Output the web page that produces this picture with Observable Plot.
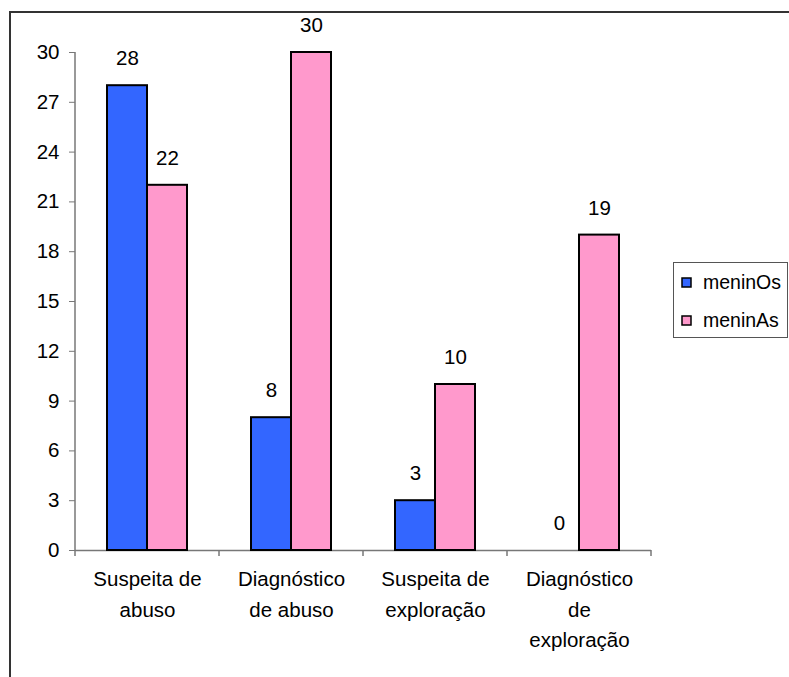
<!DOCTYPE html>
<html><head><meta charset="utf-8">
<script src="https://cdn.jsdelivr.net/npm/d3@7"></script>
<script src="https://cdn.jsdelivr.net/npm/@observablehq/plot@0.6"></script>
<style>
body{margin:0;background:#fff}
#chart{position:relative;width:789px;height:677px;overflow:hidden}
</style>
</head><body><div id="chart"></div>
<script>
const categories = ["Suspeita de abuso","Diagnóstico de abuso","Suspeita de exploração","Diagnóstico de exploração"];
const categoryLines = [["Suspeita de","abuso"],["Diagnóstico","de abuso"],["Suspeita de","exploração"],["Diagnóstico","de","exploração"]];
const seriesNames = ["meninOs","meninAs"];
const meninOs = [28, 8, 3, 0];
const meninAs = [22, 30, 10, 19];
const yTicks = [0,3,6,9,12,15,18,21,24,27,30];
const colors = ["#3366FF","#FF99CC"];

const FONT = "'Liberation Sans', Arial, sans-serif";
const FS = 20.5;
const W = 789, H = 677;
const data = categories.flatMap((c,i)=>[
  {cat:c, series:"meninOs", value:meninOs[i]},
  {cat:c, series:"meninAs", value:meninAs[i]}
]);

const svg = Plot.plot({
  width: W, height: H,
  marginLeft: 73, marginRight: 137, marginTop: 52, marginBottom: 127,
  style: {fontFamily: FONT, fontSize: FS + "px", color: "#000", background: "transparent", overflow: "visible"},
  fx: {domain: categories, padding: 0, label: null},
  x: {domain: seriesNames, paddingInner: 0, paddingOuter: 0.765, axis: null},
  y: {domain: [0, 30], label: null},
  color: {domain: seriesNames, range: colors},
  marks: [
    Plot.ruleY([0], {stroke: "#777", strokeWidth: 1.5}),
    Plot.axisY({ticks: yTicks, tickSize: 6, tickPadding: 10, fontSize: FS, stroke: "#777", fill: "#000", label: null}),
    Plot.axisFx({anchor: "bottom", tickSize: 0, tickPadding: 14, fontSize: FS, lineHeight: 30.5/FS, fill: "#000", label: null,
      tickFormat: c => categoryLines[categories.indexOf(c)].join("\n")}),
    Plot.barY(data.filter(d => d.value > 0), {fx: "cat", x: "series", y: "value", fill: "series", stroke: "#000", strokeWidth: 2}),
    Plot.text(data, {fx: "cat", x: "series", y: "value", text: d => String(d.value), dy: -27, fontSize: FS, fill: "#000"})
  ]
});

const root = d3.select(svg);
const fxS = svg.scale("fx"), yS = svg.scale("y");
const x0 = fxS.apply(categories[0]);
const bounds = categories.map(c => fxS.apply(c)).concat([fxS.apply(categories[categories.length-1]) + fxS.bandwidth]);
const y0 = yS.apply(0), yTop = yS.apply(30);
const deco = root.append("g");
deco.append("line").attr("x1", x0).attr("x2", x0).attr("y1", yTop).attr("y2", y0)
  .attr("stroke", "#777").attr("stroke-width", 1.5);
bounds.forEach(b => deco.append("line").attr("x1", b).attr("x2", b).attr("y1", y0).attr("y2", y0 + 6)
  .attr("stroke", "#777").attr("stroke-width", 1.5));
deco.append("rect").attr("x", 10).attr("y", 12).attr("width", W + 20).attr("height", H + 20)
  .attr("fill", "none").attr("stroke", "#333").attr("stroke-width", 2);
const lg = root.append("g").attr("font-family", FONT).attr("font-size", 19.5).attr("text-anchor", "start");
lg.append("rect").attr("x", 673.5).attr("y", 262.5).attr("width", 114).attr("height", 75)
  .attr("fill", "#fff").attr("stroke", "#555").attr("stroke-width", 1);
seriesNames.forEach((s, i) => {
  const cy = 282.5 + i * 38;
  lg.append("rect").attr("x", 682).attr("y", cy - 4.5).attr("width", 9).attr("height", 9)
    .attr("fill", colors[i]).attr("stroke", "#000").attr("stroke-width", 1.5);
  lg.append("text").attr("x", 703).attr("y", cy).attr("dy", "0.35em").attr("fill", "#000").attr("text-anchor", "start").text(s);
});

document.getElementById("chart").appendChild(svg);
</script>
</body></html>
